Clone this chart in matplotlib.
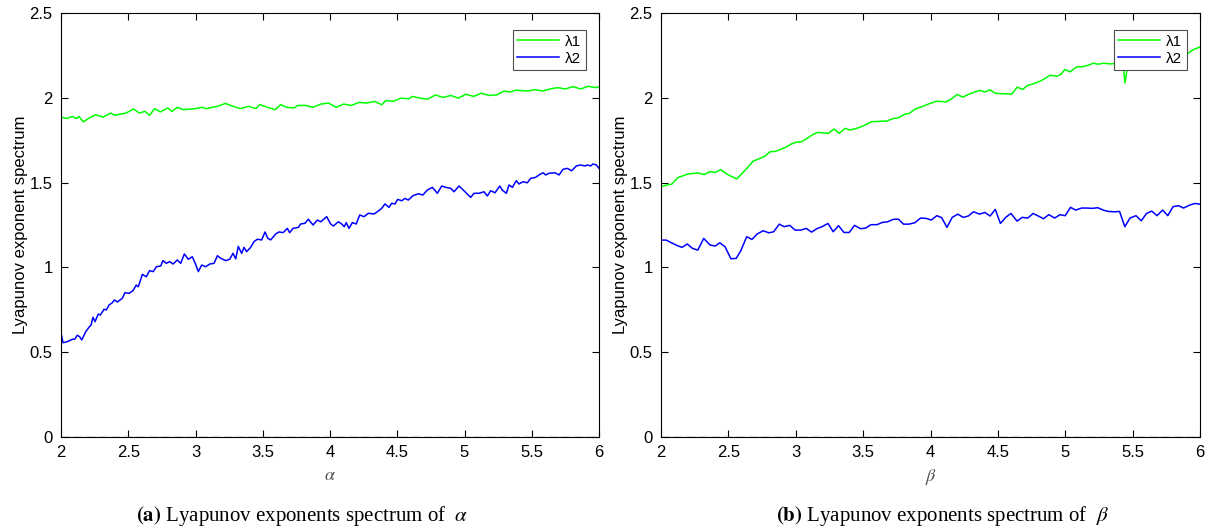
import matplotlib
matplotlib.use("Agg")
import matplotlib.pyplot as plt
from matplotlib.ticker import FixedLocator, FuncFormatter

# ---------------- data ----------------
alpha_l1_x = [2.000, 2.043, 2.085, 2.114, 2.134, 2.165, 2.213, 2.256, 2.313, 2.369, 2.398, 2.483, 2.540,
              2.582, 2.625, 2.659, 2.696, 2.739, 2.795, 2.824, 2.866, 2.909, 2.994, 3.051, 3.080, 3.165,
              3.222, 3.278, 3.335, 3.392, 3.449, 3.477, 3.534, 3.591, 3.634, 3.676, 3.733, 3.761, 3.818,
              3.875, 3.932, 3.989, 4.045, 4.102, 4.159, 4.216, 4.273, 4.330, 4.386, 4.415, 4.472, 4.528,
              4.585, 4.614, 4.670, 4.727, 4.784, 4.841, 4.898, 4.955, 5.011, 5.068, 5.125, 5.182, 5.239,
              5.295, 5.338, 5.381, 5.466, 5.523, 5.580, 5.636, 5.693, 5.750, 5.807, 5.864, 5.920, 5.977, 6.000]
alpha_l1_y = [1.886, 1.878, 1.890, 1.878, 1.890, 1.858, 1.882, 1.900, 1.886, 1.910, 1.897, 1.910, 1.934,
              1.910, 1.920, 1.897, 1.936, 1.917, 1.940, 1.920, 1.944, 1.930, 1.936, 1.944, 1.936, 1.950,
              1.967, 1.950, 1.936, 1.950, 1.936, 1.960, 1.944, 1.930, 1.960, 1.944, 1.940, 1.955, 1.955,
              1.944, 1.963, 1.969, 1.944, 1.963, 1.955, 1.973, 1.969, 1.979, 1.959, 1.984, 1.979, 1.998,
              1.994, 2.008, 1.998, 1.992, 2.017, 2.002, 2.014, 1.998, 2.021, 2.008, 2.027, 2.014, 2.017,
              2.040, 2.033, 2.045, 2.040, 2.048, 2.040, 2.052, 2.060, 2.052, 2.066, 2.052, 2.068, 2.060, 2.065]

alpha_l2_x = [2.000, 2.015, 2.047, 2.084, 2.104, 2.121, 2.139, 2.154, 2.184, 2.208, 2.223, 2.238, 2.253,
              2.277, 2.292, 2.320, 2.337, 2.357, 2.382, 2.397, 2.419, 2.456, 2.476, 2.506, 2.535, 2.560,
              2.575, 2.605, 2.634, 2.659, 2.686, 2.709, 2.741, 2.758, 2.783, 2.808, 2.833, 2.865, 2.890,
              2.917, 2.947, 2.976, 2.996, 3.021, 3.046, 3.076, 3.106, 3.138, 3.163, 3.187, 3.225, 3.254,
              3.279, 3.299, 3.318, 3.343, 3.361, 3.380, 3.410, 3.435, 3.460, 3.492, 3.517, 3.537, 3.559,
              3.596, 3.621, 3.651, 3.683, 3.700, 3.725, 3.765, 3.782, 3.814, 3.839, 3.874, 3.906, 3.931,
              3.975, 4.005, 4.025, 4.062, 4.087, 4.106, 4.121, 4.141, 4.166, 4.195, 4.221, 4.253, 4.285,
              4.327, 4.352, 4.384, 4.409, 4.439, 4.459, 4.483, 4.503, 4.533, 4.558, 4.582, 4.617, 4.657,
              4.691, 4.723, 4.761, 4.798, 4.831, 4.860, 4.898, 4.922, 4.959, 4.996, 5.046, 5.071, 5.108,
              5.145, 5.170, 5.195, 5.227, 5.262, 5.281, 5.311, 5.331, 5.356, 5.385, 5.405, 5.435, 5.467,
              5.492, 5.529, 5.554, 5.584, 5.604, 5.628, 5.673, 5.703, 5.732, 5.764, 5.797, 5.831, 5.864,
              5.896, 5.913, 5.938, 5.955, 5.980, 6.000]
alpha_l2_y = [0.615, 0.556, 0.562, 0.576, 0.578, 0.600, 0.591, 0.572, 0.621, 0.647, 0.660, 0.706, 0.680,
              0.725, 0.719, 0.753, 0.749, 0.778, 0.792, 0.808, 0.796, 0.818, 0.851, 0.847, 0.863, 0.896,
              0.886, 0.959, 0.945, 0.981, 0.975, 1.004, 1.008, 1.040, 1.024, 1.034, 1.020, 1.044, 1.024,
              1.079, 1.048, 1.063, 1.028, 0.975, 1.014, 1.004, 1.020, 1.024, 1.069, 1.054, 1.040, 1.048,
              1.083, 1.050, 1.124, 1.083, 1.118, 1.093, 1.118, 1.152, 1.166, 1.162, 1.209, 1.172, 1.162,
              1.197, 1.209, 1.205, 1.230, 1.205, 1.230, 1.236, 1.256, 1.260, 1.284, 1.250, 1.279, 1.269,
              1.299, 1.256, 1.244, 1.269, 1.256, 1.240, 1.264, 1.230, 1.264, 1.256, 1.309, 1.299, 1.319,
              1.315, 1.328, 1.348, 1.374, 1.354, 1.378, 1.374, 1.401, 1.393, 1.407, 1.397, 1.423, 1.434,
              1.427, 1.456, 1.472, 1.437, 1.480, 1.472, 1.466, 1.446, 1.480, 1.452, 1.413, 1.437, 1.437,
              1.446, 1.421, 1.452, 1.440, 1.480, 1.456, 1.437, 1.486, 1.472, 1.511, 1.492, 1.505, 1.499,
              1.525, 1.531, 1.545, 1.558, 1.545, 1.555, 1.558, 1.545, 1.578, 1.584, 1.570, 1.598, 1.604,
              1.598, 1.604, 1.598, 1.610, 1.604, 1.584]

beta_l1_x = [2.000, 2.042, 2.079, 2.124, 2.166, 2.203, 2.277, 2.321, 2.364, 2.401, 2.443, 2.500, 2.562,
             2.603, 2.648, 2.685, 2.722, 2.767, 2.809, 2.846, 2.883, 2.920, 2.965, 3.007, 3.044, 3.081,
             3.123, 3.163, 3.242, 3.284, 3.323, 3.366, 3.403, 3.452, 3.514, 3.563, 3.675, 3.724, 3.761,
             3.806, 3.843, 3.885, 3.947, 3.996, 4.046, 4.115, 4.157, 4.199, 4.239, 4.281, 4.318, 4.362,
             4.404, 4.442, 4.479, 4.528, 4.603, 4.644, 4.684, 4.719, 4.763, 4.813, 4.850, 4.887, 4.937,
             4.966, 4.998, 5.035, 5.085, 5.134, 5.171, 5.208, 5.245, 5.282, 5.332, 5.369, 5.405, 5.430,
             5.443, 5.460, 5.490, 5.550, 5.600, 5.650, 5.700, 5.750, 5.800, 5.850, 5.889, 5.950, 6.000]
beta_l1_y = [1.476, 1.486, 1.490, 1.529, 1.541, 1.551, 1.557, 1.547, 1.565, 1.559, 1.576, 1.545, 1.522,
             1.555, 1.594, 1.627, 1.639, 1.653, 1.682, 1.684, 1.694, 1.706, 1.727, 1.739, 1.741, 1.759,
             1.782, 1.796, 1.790, 1.816, 1.790, 1.820, 1.810, 1.820, 1.839, 1.859, 1.863, 1.878, 1.882,
             1.902, 1.908, 1.933, 1.951, 1.967, 1.980, 1.976, 1.994, 2.020, 2.004, 2.020, 2.031, 2.043,
             2.035, 2.047, 2.027, 2.024, 2.022, 2.063, 2.049, 2.073, 2.082, 2.098, 2.114, 2.133, 2.127,
             2.137, 2.167, 2.153, 2.182, 2.184, 2.192, 2.204, 2.198, 2.204, 2.200, 2.202, 2.200, 2.195,
             2.088, 2.170, 2.200, 2.200, 2.210, 2.208, 2.218, 2.220, 2.230, 2.240, 2.251, 2.284, 2.300]

beta_l2_x = [2.000, 2.039, 2.078, 2.117, 2.156, 2.195, 2.234, 2.273, 2.317, 2.364, 2.403, 2.436, 2.475,
             2.519, 2.558, 2.592, 2.636, 2.675, 2.714, 2.758, 2.800, 2.836, 2.878, 2.914, 2.956, 2.995,
             3.039, 3.078, 3.117, 3.156, 3.195, 3.239, 3.278, 3.317, 3.358, 3.397, 3.436, 3.481, 3.519,
             3.558, 3.603, 3.642, 3.683, 3.722, 3.761, 3.800, 3.839, 3.883, 3.927, 3.969, 4.005, 4.047,
             4.083, 4.122, 4.161, 4.203, 4.242, 4.281, 4.319, 4.364, 4.403, 4.442, 4.481, 4.519, 4.558,
             4.597, 4.642, 4.681, 4.722, 4.761, 4.800, 4.839, 4.878, 4.922, 4.961, 5.000, 5.039, 5.078,
             5.122, 5.161, 5.200, 5.242, 5.281, 5.319, 5.364, 5.403, 5.442, 5.481, 5.525, 5.564, 5.603,
             5.642, 5.681, 5.722, 5.761, 5.800, 5.839, 5.878, 5.922, 5.961, 6.000]
beta_l2_y = [1.161, 1.161, 1.145, 1.130, 1.118, 1.138, 1.112, 1.102, 1.171, 1.132, 1.126, 1.145, 1.122,
             1.051, 1.053, 1.098, 1.181, 1.165, 1.197, 1.216, 1.204, 1.210, 1.255, 1.240, 1.248, 1.220,
             1.220, 1.230, 1.208, 1.228, 1.240, 1.259, 1.210, 1.246, 1.206, 1.206, 1.248, 1.228, 1.232,
             1.252, 1.252, 1.265, 1.269, 1.283, 1.285, 1.255, 1.255, 1.263, 1.291, 1.289, 1.279, 1.305,
             1.293, 1.236, 1.295, 1.314, 1.295, 1.303, 1.328, 1.314, 1.324, 1.303, 1.342, 1.259, 1.295,
             1.318, 1.273, 1.295, 1.291, 1.318, 1.303, 1.287, 1.311, 1.291, 1.311, 1.305, 1.354, 1.338,
             1.350, 1.350, 1.348, 1.352, 1.338, 1.330, 1.328, 1.330, 1.240, 1.291, 1.305, 1.275, 1.318,
             1.332, 1.305, 1.338, 1.305, 1.358, 1.364, 1.350, 1.367, 1.377, 1.373]

x_ticks = [2, 2.5, 3, 3.5, 4, 4.5, 5, 5.5, 6]
y_ticks = [0, 0.5, 1, 1.5, 2, 2.5]
legend_labels = ["λ1", "λ2"]
y_label = "Lyapunov exponent spectrum"
panels = [
    (r"$\alpha$", "(a)", "Lyapunov exponents spectrum of", r"$\alpha$",
     alpha_l1_x, alpha_l1_y, alpha_l2_x, alpha_l2_y),
    (r"$\beta$", "(b)", "Lyapunov exponents spectrum of", r"$\beta$",
     beta_l1_x, beta_l1_y, beta_l2_x, beta_l2_y),
]

# ---------------- drawing ----------------
plt.rcParams['font.family'] = ['Liberation Sans', 'DejaVu Sans']
plt.rcParams['mathtext.fontset'] = 'stix'

fig = plt.figure(figsize=(12.12, 5.27), dpi=100)
axes_rects = [[61/1212, 1-437/527, 538/1212, 424/527],
              [661/1212, 1-437/527, 539/1212, 424/527]]
caption_x = [302/1212, 942/1212]

fmt = FuncFormatter(lambda v, p: ("%g" % v))

for i, (xl, tag, cap, capsym, x1, y1, x2, y2) in enumerate(panels):
    ax = fig.add_axes(axes_rects[i])
    ax.plot(x1, y1, color=(0, 1, 0), lw=1.1, label=legend_labels[0])
    ax.plot(x2, y2, color=(0, 0, 1), lw=1.1, label=legend_labels[1])
    ax.plot([2, 6], [0, 0], color=(0.45, 0.45, 0.45), lw=1.0, ls=(0, (6, 3)))
    ax.set_xlim(2, 6)
    ax.set_ylim(0, 2.5)
    ax.xaxis.set_major_locator(FixedLocator(x_ticks))
    ax.yaxis.set_major_locator(FixedLocator(y_ticks))
    ax.xaxis.set_major_formatter(fmt)
    ax.yaxis.set_major_formatter(fmt)
    ax.tick_params(direction='in', top=True, right=True, length=5, width=0.8,
                   labelsize=12, pad=6)
    for s in ax.spines.values():
        s.set_linewidth(0.8)
    ax.set_ylabel(y_label, fontsize=12, labelpad=1)
    ax.set_xlabel(xl, fontsize=13, color=(0.3, 0.3, 0.3), labelpad=5)
    leg = ax.legend(loc='upper right', bbox_to_anchor=(0.975, 0.96), fontsize=11,
                    fancybox=False, framealpha=1, edgecolor=(0.3, 0.3, 0.3),
                    handlelength=2.7, handletextpad=0.4, borderpad=0.3,
                    labelspacing=0.2, borderaxespad=0.0)
    leg.get_frame().set_linewidth(0.8)
    leg.set_zorder(5)

    fig.text(caption_x[i], 1 - 516/527, r"$\mathbf{" + tag + "}$ " + cap + "  " + capsym,
             ha='center', va='center', fontsize=15,
             family=['Liberation Serif', 'DejaVu Serif'])

fig.savefig("out.png", dpi=100)
